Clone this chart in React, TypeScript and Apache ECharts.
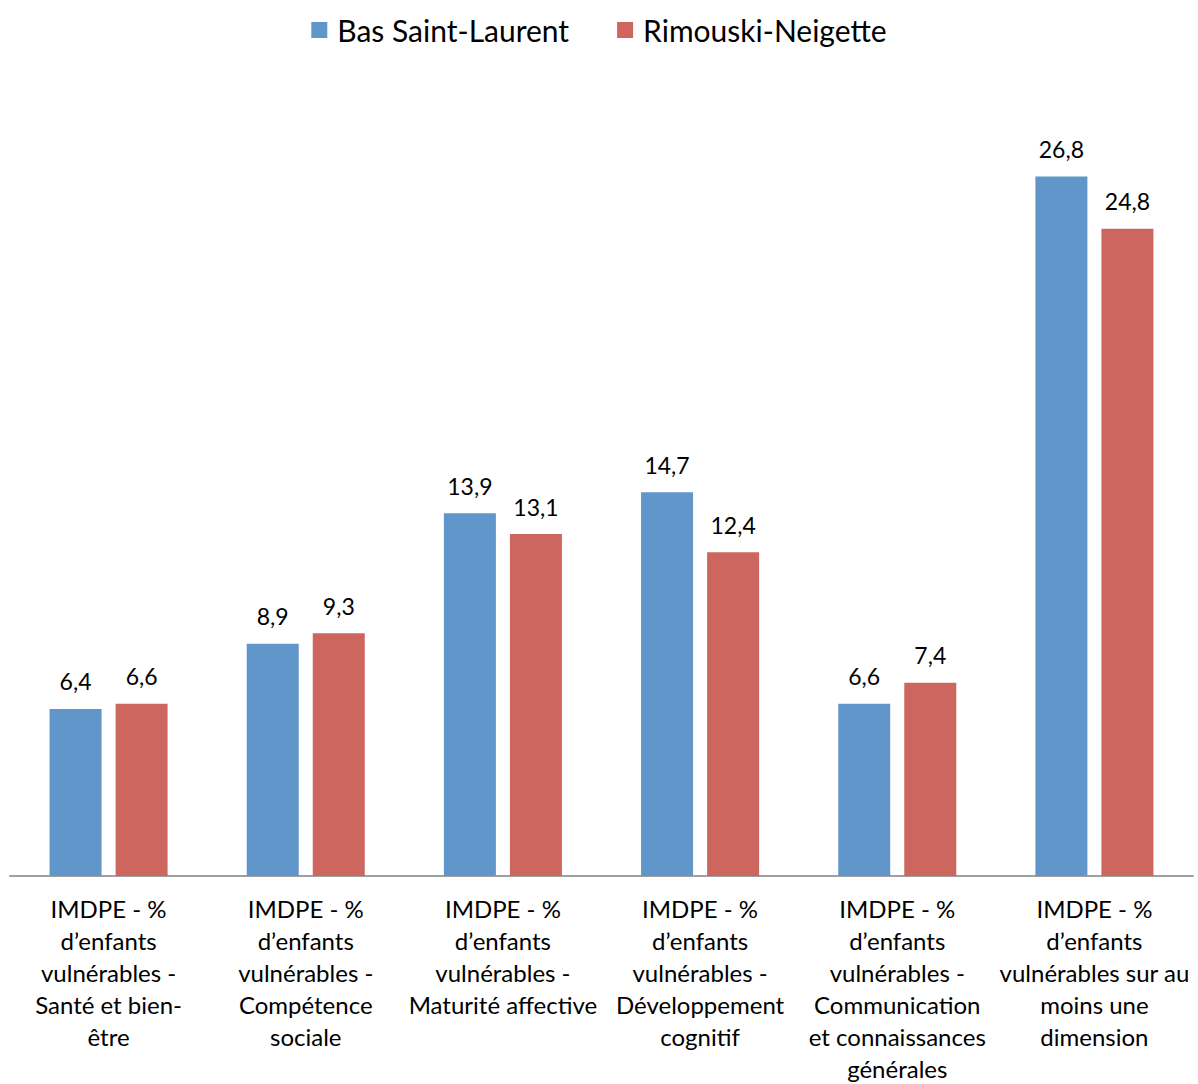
import React, { useEffect, useRef } from "react";
import * as echarts from "echarts";

const categories = [
  "IMDPE - %\nd’enfants\nvulnérables -\nSanté et bien-\nêtre",
  "IMDPE - %\nd’enfants\nvulnérables -\nCompétence\nsociale",
  "IMDPE - %\nd’enfants\nvulnérables -\nMaturité affective",
  "IMDPE - %\nd’enfants\nvulnérables -\nDéveloppement\ncognitif",
  "IMDPE - %\nd’enfants\nvulnérables -\nCommunication\net connaissances\ngénérales",
  "IMDPE - %\nd’enfants\nvulnérables sur au\nmoins une\ndimension",
];
const basSaintLaurent = [6.4, 8.9, 13.9, 14.7, 6.6, 26.8];
const rimouskiNeigette = [6.6, 9.3, 13.1, 12.4, 7.4, 24.8];
const seriesNames = ["Bas Saint-Laurent", "Rimouski-Neigette"];

const FONT = "Lato, 'Open Sans', sans-serif";

export default function App() {
  const ref = useRef<HTMLDivElement>(null);
  useEffect(() => {
    if (!ref.current) return;
    const chart = echarts.init(ref.current, null, { renderer: "svg" });
    const label = {
      show: true,
      position: "top",
      distance: 16,
      color: "#000",
      fontSize: 23,
      fontFamily: FONT,
      formatter: (p: any) => String(p.value).replace(".", ","),
    };
    chart.setOption({
      animation: false,
      backgroundColor: "#fff",
      textStyle: { fontFamily: FONT },
      legend: {
        top: 10,
        left: "center",
        itemWidth: 16,
        itemHeight: 16,
        itemGap: 48,
        icon: "rect",
        textStyle: { fontSize: 30, color: "#000", fontFamily: FONT, padding: [0, 0, 0, 5] },
        data: seriesNames,
      },
      grid: { left: 10, right: 5, top: 93, bottom: 200, containLabel: false },
      xAxis: {
        type: "category",
        data: categories,
        axisLine: { lineStyle: { color: "#A0A0A0", width: 2 } },
        axisTick: { show: false },
        axisLabel: {
          interval: 0,
          margin: 16,
          fontSize: 24,
          lineHeight: 32,
          color: "#000",
          fontFamily: FONT,
          align: "center",
        },
      },
      yAxis: {
        type: "value",
        min: 0,
        max: 30,
        show: false,
        splitLine: { show: false },
      },
      series: [
        {
          name: seriesNames[0],
          type: "bar",
          data: basSaintLaurent,
          barWidth: 52,
          barGap: "27%",
          itemStyle: { color: "#6096C9" },
          label,
        },
        {
          name: seriesNames[1],
          type: "bar",
          data: rimouskiNeigette,
          barWidth: 52,
          barGap: "27%",
          itemStyle: { color: "#CD665F" },
          label,
        },
      ],
    });
    return () => chart.dispose();
  }, []);
  return (
    <div
      ref={ref}
      style={{ position: "absolute", left: 0, top: 0, width: 1198, height: 1084 }}
    />
  );
}
